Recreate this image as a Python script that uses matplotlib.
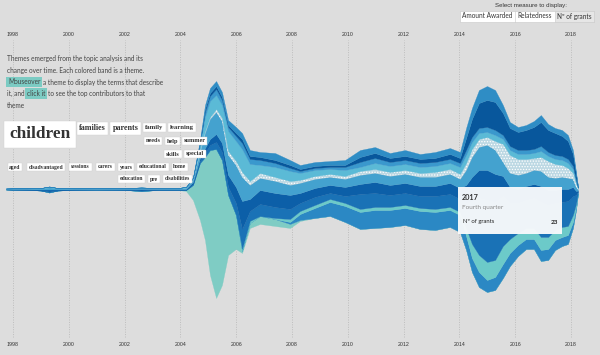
import numpy as np
import matplotlib
matplotlib.use('Agg')
import matplotlib.pyplot as plt
from matplotlib.patches import Rectangle

plt.rcParams['hatch.linewidth'] = 0.6

# sample times (years) of the stream
years = [1997.75, 1998.5, 1999.0, 1999.3, 1999.6, 2000.2, 2001.0, 2002.0, 2002.6, 2003.2, 2003.9,
         2004.20, 2004.45, 2004.70, 2004.88, 2005.06, 2005.28, 2005.49, 2005.71, 2005.99, 2006.21,
         2006.49, 2006.85, 2007.39, 2007.93, 2008.29, 2008.82, 2009.36, 2009.90, 2010.44, 2010.97,
         2011.51, 2012.05, 2012.59, 2013.13, 2013.66, 2014.02, 2014.24, 2014.45, 2014.70, 2014.99,
         2015.28, 2015.56, 2015.81, 2016.10, 2016.39, 2016.67, 2016.92, 2017.18, 2017.43, 2017.68,
         2017.89, 2018.07, 2018.18, 2018.25]

# stream offset (bottom edge of the stack)
baseline = [-0.5, -1, -1.5, -3.5, -1.5, -1, -0.7, -1, -2, -1, -1,
            -2, -11, -31, -51, -86, -109, -96, -66, -60, -64,
            -39, -35, -37, -39, -32, -29, -27, -33, -40, -39,
            -38, -36, -40, -41, -38, -43, -61, -83, -98, -103,
            -101, -89, -77, -67, -60, -60, -72, -71, -61, -57,
            -55, -39, -21, -5]

# themes, bottom of the stack first
theme_k = [0, 0, 0, 0, 0, 0, 0, 0, 0, 0, 0,
           1, 15, 57, 83, 125, 149, 125, 60, 34, 2,
           5, 8, 7, 4, 1, 0, 0, 0, 0, 0,
           0, 0, 0, 0, 0, 0, 0, 0, 0, 0,
           0, 0, 0, 0, 0, 0, 0, 0, 0, 0,
           0, 0, 0, 0]
theme_j = [0, 0, 0, 0, 0, 0, 0, 0, 0, 0, 0,
           0, 0, 0, 0, 0, 0, 0, 0, 0, 0,
           0, 0, 0, 2, 6, 10, 14, 16, 17, 18,
           17, 17, 18, 18, 17, 17, 14, 14, 15, 12,
           13, 14, 13, 11, 10, 10, 11, 11, 10, 9,
           9, 6, 3, 0.5]
theme_i = [0, 0, 0, 0, 0, 0, 0, 0, 0, 0, 0,
           0, 0, 0, 0, 0, 0, 0, 0, 0, 2,
           2, 0, 1, 3, 3, 3, 3, 3, 3, 3,
           3, 3, 3, 3, 3, 3, 8, 14, 17, 18,
           17, 18, 14, 12, 11, 11, 13, 12, 10, 10,
           9, 7, 3, 0.5]
theme_h = [0, 0, 0, 1, 0, 0, 0, 0, 0.5, 0, 0,
           0, 1, 2, 4, 5, 7, 8, 8, 12, 20,
           10, 12, 11, 10, 8, 8, 6, 7, 15, 14,
           12, 12, 12, 13, 13, 13, 25, 43, 57, 62,
           58, 50, 36, 30, 28, 30, 35, 32, 27, 25,
           25, 19, 9, 1.5]
theme_g = [0.5, 1, 1, 2, 1, 1, 0.6, 1, 1.5, 1, 1,
           1, 2, 3, 5, 6, 8, 9, 12, 16, 28,
           12, 14, 14, 14, 10, 9, 8, 9, 10, 11,
           10, 10, 10, 10, 11, 11, 18, 24, 28, 30,
           28, 20, 16, 14, 14, 14, 16, 15, 13, 13,
           12, 9, 4, 1]
theme_f = [0.5, 1, 1.5, 2, 1.5, 1, 0.8, 1, 1.5, 1, 1,
           1, 2, 6, 15, 20, 22, 22, 20, 22, 24,
           14, 12, 12, 10, 10, 9, 8, 8, 9, 9,
           9, 9, 9, 9, 9, 9, 15, 20, 23, 25,
           24, 14, 14, 14, 13, 14, 15, 13, 12, 12,
           11, 8, 4, 1]
theme_e = [0, 0, 0, 0, 0, 0, 0, 0, 0, 0, 0,
           0, 1, 2, 2, 2, 3, 3, 4, 4, 5,
           4, 5, 4, 4, 3, 3, 3, 3, 4, 4,
           4, 4, 4, 5, 5, 5, 7, 8, 8, 8,
           9, 18, 18, 16, 14, 12, 14, 16, 14, 12,
           10, 6, 3, 1]
theme_d = [0, 0, 0, 1, 0, 0, 0, 0, 0, 0, 0,
           1, 1, 5, 14, 16, 14, 13, 20, 20, 23,
           17, 8, 10, 10, 7, 6, 5, 6, 4, 6,
           6, 6, 6, 6, 6, 7, 8, 7, 6, 5,
           6, 5, 5, 5, 5, 5, 6, 5, 5, 5,
           5, 4, 2, 0.5]
theme_c = [0, 0, 0, 0, 0, 0, 0, 0, 0, 0, 0,
           0, 0, 2, 5, 5, 6, 5, 4, 5, 6,
           5, 5, 4, 3, 2, 2, 2, 3, 5, 5,
           4, 4, 4, 4, 4, 4, 5, 5, 5, 5,
           5, 4, 4, 4, 4, 4, 5, 4, 4, 4,
           4, 3, 2, 0.5]
theme_b = [0, 0, 0, 0, 0, 0, 0, 0, 0, 0, 0,
           0, 0, 1, 3, 3, 3, 3, 2, 3, 4,
           3, 3, 3, 3, 2, 2, 2, 2, 5, 5,
           4, 4, 4, 4, 5, 5, 12, 18, 25, 27,
           28, 22, 18, 18, 20, 22, 24, 22, 22, 20,
           18, 12, 6, 1]
theme_a = [0, 0, 0, 0, 0, 0, 0, 0, 0, 0, 0,
           0, 1, 2, 4, 5, 5, 5, 5, 6, 6,
           6, 5, 7, 5, 4, 4, 4, 5, 7, 6,
           5, 6, 5, 6, 6, 6, 10, 11, 13, 14,
           12, 8, 6, 5, 5, 6, 7, 6, 5, 6,
           6, 4, 2, 0.5]

themes = [theme_k, theme_j, theme_i, theme_h, theme_g, theme_f,
          theme_e, theme_d, theme_c, theme_b, theme_a]
colors = ['#7fccc4', '#2b88c4', '#6ccac9', '#1a72b6', '#0c5fa8', '#44a2cf',
          '#bcd8e3', '#5bbad6', '#3a98cd', '#08579c', '#2f8dc5']
hatches = [None, None, None, None, None, None, '......', None, None, None, None]

grid_years = list(range(1998, 2019, 2))

words = ['children', 'families', 'parents', 'family', 'learning', 'needs', 'help',
         'summer', 'skills', 'special', 'aged', 'disadvantaged', 'sessions', 'carers',
         'years', 'educational', 'home', 'education', 'pre', 'disabilities']
word_sizes = [12.4, 5.8, 5.8, 4.8, 4.8, 4.5, 4.5, 4.5, 4.5, 4.5, 4.1, 4.1, 4.1, 4.1,
              4.1, 4.1, 4.1, 4.1, 4.1, 4.1]
word_pos = [(40, 134.5), (92.5, 128.5), (125.5, 128.5), (154.5, 127), (181.5, 127),
            (153, 141), (172.5, 141), (194.5, 141), (173, 154), (195, 154),
            (15, 167), (46, 167), (80.5, 167), (105.5, 167), (126, 167), (153, 167),
            (180, 167), (131.5, 179), (154, 179), (177.5, 179)]

BG = '#dddddd'
fig = plt.figure(figsize=(6, 3.55), dpi=100)
fig.patch.set_facecolor(BG)
ax = fig.add_axes([0, 0, 1, 1])
ax.set_facecolor(BG)
ax.set_xlim(1997.534, 2019.04)
ax.set_ylim(-166, 189)
ax.axis('off')

ax.vlines(grid_years, -148, 149, colors='#bdbdbd', linestyles=(0, (1, 1.5)), lw=0.7, zorder=0)
for y in grid_years:
    ax.text(y, 155, str(y), ha='center', va='center', fontsize=3.8, color='#333333',
            family='Liberation Sans')
    ax.text(y, -155, str(y), ha='center', va='center', fontsize=3.8, color='#333333',
            family='Liberation Sans')

lower = np.array(baseline, dtype=float)
for vals, col, h in zip(themes, colors, hatches):
    upper = lower + np.array(vals, dtype=float)
    if h:
        ax.fill_between(years, lower, upper, facecolor=col, edgecolor='white', hatch=h,
                        lw=0, zorder=2)
    else:
        ax.fill_between(years, lower, upper, facecolor=col, edgecolor=col, lw=0.2, zorder=2)
    lower = upper

# overlay in pixel coordinates for the html-like parts
ov = fig.add_axes([0, 0, 1, 1], facecolor='none')
ov.set_xlim(0, 600)
ov.set_ylim(355, 0)
ov.axis('off')

txt = dict(family='Lato', fontsize=4.7, color='#444444', va='center', ha='left')
ov.text(7, 59, 'Themes emerged from the topic analysis and its', **txt)
ov.text(7, 71, 'change over time. Each colored band is a theme.', **txt)
ov.text(8, 82, 'Mouseover', bbox=dict(boxstyle='square,pad=0.25', fc='#7ccbc3', ec='none'), **txt)
ov.text(43, 82, 'a theme to display the terms that describe', **txt)
ov.text(7, 93.5, 'it, and', **txt)
ov.text(27, 93.5, 'click it', bbox=dict(boxstyle='square,pad=0.25', fc='#7ccbc3', ec='none'), **txt)
ov.text(48, 93.5, 'to see the top contributors to that', **txt)
ov.text(7, 105, 'theme', **txt)

for w, s, (x, y) in zip(words, word_sizes, word_pos):
    ov.text(x, y, w, ha='center', va='center', fontsize=s, family='Liberation Serif',
            fontweight='bold', color='#333333',
            bbox=dict(boxstyle='square,pad=0.3', fc='white', ec='#cfcfcf', lw=0.3))

# measure selector
ov.text(531, 6, 'Select measure to display:', ha='center', va='center', fontsize=4.4,
        family='Liberation Sans', color='#333333')
ov.add_patch(Rectangle((460, 10.5), 134, 11, fc='white', ec='#c8c8c8', lw=0.4))
ov.add_patch(Rectangle((554.5, 10.5), 39.5, 11, fc='#e6e6e6', ec='#c8c8c8', lw=0.4))
ov.plot([514.5, 514.5], [10.5, 21.5], color='#c8c8c8', lw=0.4)
btn = dict(family='Lato', fontsize=4.7, color='#333333', va='center', ha='center')
ov.text(487, 16, 'Amount Awarded', **btn)
ov.text(534.5, 16, 'Relatedness', **btn)
ov.text(574, 16, 'N\u00ba of grants', **btn)

# tooltip
ov.add_patch(Rectangle((458, 187), 104, 47, fc='#f7f9fb', ec='none', alpha=0.97, zorder=5))
ov.text(462, 197, '2017', family='Lato', fontweight='bold', fontsize=5.2, color='#333333',
        va='center', ha='left', zorder=6)
ov.text(462, 207.5, 'Fourth quarter', family='Lato', fontsize=4.6, color='#888888',
        va='center', ha='left', zorder=6)
ov.text(463, 222, 'N\u00ba of grants', family='Lato', fontsize=4.2, color='#222222',
        va='center', ha='left', zorder=6)
ov.text(558, 222, '23', family='Lato', fontweight='bold', fontsize=4.6, color='#222222',
        va='center', ha='right', zorder=6)

fig.savefig('out.png', dpi=100, facecolor=BG)
